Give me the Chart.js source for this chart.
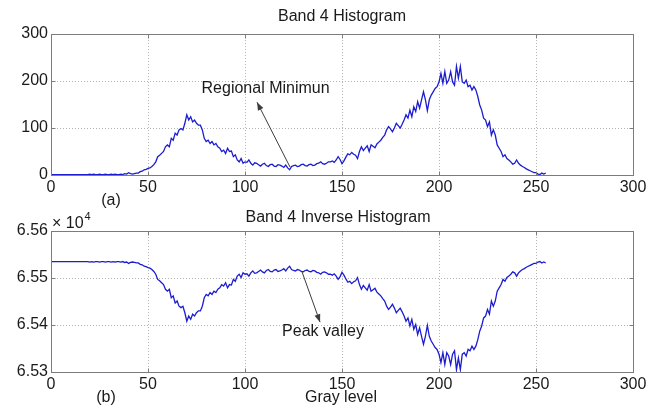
<!DOCTYPE html>
<html><head><meta charset="utf-8">
<script src="https://cdn.jsdelivr.net/npm/chart.js@4.4.1/dist/chart.umd.min.js"></script>
<style>
html,body{margin:0;padding:0;background:#fff;}
#wrap{position:relative;width:669px;height:407px;background:#fff;}
canvas{position:absolute;left:0;}
</style></head><body>
<div id="wrap">
<canvas id="c1" width="669" height="212" style="top:0"></canvas>
<canvas id="c2" width="669" height="207" style="top:200px"></canvas>
</div>
<script>
// ---- data ----
const grayLevels = [0,1,2,3,4,5,6,7,8,9,10,11,12,13,14,15,16,17,18,19,20,21,22,23,24,25,26,27,28,29,30,31,32,33,34,35,36,37,38,39,40,41,42,43,44,45,46,47,48,49,50,51,52,53,54,55,56,57,58,59,60,61,62,63,64,65,66,67,68,69,70,71,72,73,74,75,76,77,78,79,80,81,82,83,84,85,86,87,88,89,90,91,92,93,94,95,96,97,98,99,100,101,102,103,104,105,106,107,108,109,110,111,112,113,114,115,116,117,118,119,120,121,122,123,124,125,126,127,128,129,130,131,132,133,134,135,136,137,138,139,140,141,142,143,144,145,146,147,148,149,150,151,152,153,154,155,156,157,158,159,160,161,162,163,164,165,166,167,168,169,170,171,172,173,174,175,176,177,178,179,180,181,182,183,184,185,186,187,188,189,190,191,192,193,194,195,196,197,198,199,200,201,202,203,204,205,206,207,208,209,210,211,212,213,214,215,216,217,218,219,220,221,222,223,224,225,226,227,228,229,230,231,232,233,234,235,236,237,238,239,240,241,242,243,244,245,246,247,248,249,250,251,252,253,254,255];

const histogramCounts = [
1,1,1,1,1,1,1,1,1,1, 1,1,1,1,1,1,1,1,1,1,
2,1,2,1,1,2,1,1,2,1, 1,2,1,2,1,1,2,1,3,2,
5,3,2,3,4,4,7,8,11,12, 14,15,18,22,28,39,42,46,50,60,
64,60,78,74,89,85,96,99,96,110, 128,117,124,113,117,110,106,106,96,78,
71,74,67,71,64,67,60,57,50,53, 46,57,50,51,39,43,32,28,35,25,
28,27,32,25,21,26,25,22,19,23, 25,20,18,22,23,19,18,22,21,19,
16,21,15,11,18,20,21,18,19,22, 23,20,19,22,23,20,21,24,25,28,
24,23,25,28,28,30,27,32,39,33, 24,30,38,45,43,48,44,42,35,50,
60,52,57,62,50,64,61,58,66,70, 74,80,85,96,103,98,92,100,110,105,
100,108,117,128,121,138,124,145,135,156, 142,160,177,160,137,160,170,177,184,188,
198,216,195,220,195,202,220,198,191,231, 206,231,198,195,202,188,191,181,188,181,
167,149,138,121,117,103,113,85,96,85, 64,57,50,39,43,35,32,28,23,25,
32,25,21,18,16,13,11,9,7,5, 5,2,1,4,2,4];

const inverseCounts = [
65535,65535,65535,65535,65535,65535,65535,65535,65535,65535,
65535,65535,65535,65535,65535,65535,65535,65535,65535,65535,
65534,65535,65534,65535,65535,65534,65535,65535,65534,65535,
65535,65534,65535,65534,65535,65535,65534,65535,65533,65534,
65531,65533,65534,65533,65532,65532,65529,65528,65525,65524,
65522,65521,65518,65514,65508,65497,65494,65490,65486,65476,
65472,65476,65458,65462,65447,65451,65440,65437,65440,65426,
65408,65419,65412,65423,65419,65426,65430,65430,65440,65458,
65465,65462,65469,65465,65472,65469,65476,65479,65486,65483,
65490,65479,65486,65485,65497,65493,65504,65508,65501,65511,
65508,65509,65504,65511,65515,65510,65511,65514,65517,65513,
65511,65516,65518,65514,65513,65517,65518,65514,65515,65517,
65520,65515,65521,65525,65518,65516,65515,65518,65517,65514,
65513,65516,65517,65514,65513,65516,65515,65512,65511,65508,
65512,65513,65511,65508,65508,65506,65509,65504,65497,65503,
65512,65506,65498,65491,65493,65488,65492,65494,65501,65486,
65476,65484,65479,65474,65486,65472,65475,65478,65470,65466,
65462,65456,65451,65440,65433,65438,65444,65436,65426,65431,
65436,65428,65419,65408,65415,65398,65412,65391,65401,65380,
65394,65376,65359,65376,65399,65376,65366,65359,65352,65348,
65338,65320,65341,65316,65341,65334,65316,65338,65345,65305,
65330,65305,65338,65341,65334,65348,65345,65355,65348,65355,
65369,65387,65398,65415,65419,65433,65423,65451,65440,65451,
65472,65479,65486,65497,65493,65501,65504,65508,65513,65511,
65504,65511,65515,65518,65520,65523,65525,65527,65529,65531,
65531,65534,65535,65532,65534,65532];

const xTickValues = [0,50,100,150,200,250,300];
const histTickValues = [0,100,200,300];
const inverseTickValues = [65300,65400,65500,65600];
const inverseTickLabels = ['6.53','6.54','6.55','6.56'];

// ---- styling ----
const FONT = "'Liberation Sans', Arial, Helvetica, sans-serif";
const TICKFONT = {family: FONT, size: 16};
const LINE = '#1c1cd0';
const GRID = '#b4b4b4';
const FRAME = '#7c7c7c';
const TXT = '#1a1a1a';

const figPlugin = {
  id: 'figPlugin',
  afterDraw(chart, args, opts) {
    const ctx = chart.ctx, ca = chart.chartArea;
    const xs = chart.scales.x, ys = chart.scales.y;
    ctx.save();
    // frame
    ctx.strokeStyle = FRAME; ctx.lineWidth = 1;
    const L0 = Math.round(ca.left) + 0.5, T0 = Math.round(ca.top) + 0.5;
    const R0 = Math.round(ca.right) + 0.5, B0 = Math.round(ca.bottom) + 0.5;
    ctx.strokeRect(L0, T0, R0 - L0, B0 - T0);
    // inward tick marks on all four sides
    const TL = 4;
    ctx.beginPath();
    xs.ticks.forEach(t => {
      const px = Math.round(xs.getPixelForValue(t.value)) + 0.5;
      ctx.moveTo(px, B0); ctx.lineTo(px, B0 - TL);
      ctx.moveTo(px, T0); ctx.lineTo(px, T0 + TL);
    });
    ys.ticks.forEach(t => {
      const py = Math.round(ys.getPixelForValue(t.value)) + 0.5;
      ctx.moveTo(L0, py); ctx.lineTo(L0 + TL, py);
      ctx.moveTo(R0, py); ctx.lineTo(R0 - TL, py);
    });
    ctx.stroke();
    // arrows (data coordinates)
    (opts.arrows || []).forEach(a => {
      const x1 = xs.getPixelForValue(a.from[0]), y1 = ys.getPixelForValue(a.from[1]);
      const x2 = xs.getPixelForValue(a.to[0]), y2 = ys.getPixelForValue(a.to[1]);
      ctx.strokeStyle = '#3c3c3c'; ctx.fillStyle = '#3c3c3c'; ctx.lineWidth = 1;
      ctx.beginPath(); ctx.moveTo(x1, y1); ctx.lineTo(x2, y2); ctx.stroke();
      const ang = Math.atan2(y2 - y1, x2 - x1), L = 8, W = 3;
      ctx.beginPath(); ctx.moveTo(x2, y2);
      ctx.lineTo(x2 - L * Math.cos(ang) + W * Math.sin(ang), y2 - L * Math.sin(ang) - W * Math.cos(ang));
      ctx.lineTo(x2 - L * Math.cos(ang) - W * Math.sin(ang), y2 - L * Math.sin(ang) + W * Math.cos(ang));
      ctx.closePath(); ctx.fill();
    });
    // texts
    ctx.fillStyle = TXT; ctx.textBaseline = 'middle';
    (opts.texts || []).forEach(t => {
      let x, y;
      if (t.data) { x = xs.getPixelForValue(t.data[0]); y = ys.getPixelForValue(t.data[1]); }
      else { x = ca.left + t.dx; y = (t.ref === 'bottom' ? ca.bottom : ca.top) + t.dy; }
      ctx.font = (t.size || 16) + 'px ' + FONT;
      ctx.textAlign = t.align || 'center';
      ctx.fillText(t.text, x, y);
      if (t.sup) {
        const w = ctx.measureText(t.text).width;
        ctx.font = '11px ' + FONT; ctx.textAlign = 'left';
        ctx.fillText(t.sup, x + w + 1, y - 7);
      }
    });
    ctx.restore();
  }
};

function baseOptions(yMin, yMax, yTicks, yFmt, xAxisH, padTop, plugOpts) {
  return {
    responsive: false, animation: false, events: [],
    layout: {padding: {left: 0, right: 36, top: padTop, bottom: 0}},
    plugins: {legend: {display: false}, tooltip: {enabled: false}, title: {display: false}, figPlugin: plugOpts},
    scales: {
      x: {
        type: 'linear', min: 0, max: 300,
        afterBuildTicks: s => { s.ticks = xTickValues.map(v => ({value: v})); },
        afterFit: s => { s.height = xAxisH; },
        ticks: {font: TICKFONT, color: TXT, padding: 3, maxRotation: 0, autoSkip: false},
        grid: {color: GRID, drawTicks: false, lineWidth: 1},
        border: {display: false, dash: [1, 2]}
      },
      y: {
        type: 'linear', min: yMin, max: yMax,
        afterBuildTicks: s => { s.ticks = yTicks.map(v => ({value: v})); },
        afterFit: s => { s.width = 51; },
        ticks: {font: TICKFONT, color: TXT, padding: 3, callback: yFmt},
        grid: {color: GRID, drawTicks: false, lineWidth: 1},
        border: {display: false, dash: [1, 2]}
      }
    }
  };
}

new Chart(document.getElementById('c1'), {
  type: 'line',
  data: {datasets: [{
    data: grayLevels.map((g, i) => ({x: g, y: histogramCounts[i]})),
    borderColor: LINE, borderWidth: 1.3, pointRadius: 0, tension: 0, fill: false
  }]},
  options: baseOptions(0, 300, histTickValues, v => String(v), 212 - 175, 34, {
    arrows: [{from: [123.2, 17], to: [106.2, 155]}],
    texts: [
      {text: 'Band 4 Histogram', dx: 291, dy: -17, ref: 'top', size: 16},
      {text: 'Regional Minimun', data: [110.6, 183]},
      {text: '(a)', dx: 60, dy: 26, ref: 'bottom'}
    ]
  }),
  plugins: [figPlugin]
});

new Chart(document.getElementById('c2'), {
  type: 'line',
  data: {datasets: [{
    data: grayLevels.map((g, i) => ({x: g, y: inverseCounts[i]})),
    borderColor: LINE, borderWidth: 1.3, pointRadius: 0, tension: 0, fill: false
  }]},
  options: baseOptions(65300, 65600, inverseTickValues,
    v => inverseTickLabels[inverseTickValues.indexOf(v)], 207 - 172, 31, {
    arrows: [{from: [129.4, 65513], to: [138.7, 65406]}],
    texts: [
      {text: 'Band 4 Inverse Histogram', dx: 287, dy: -13, ref: 'top', size: 16},
      {text: '\u00d7 10', sup: '4', dx: 1, dy: -7, ref: 'top', align: 'left', size: 16},
      {text: 'Peak valley', data: [140.2, 65385]},
      {text: '(b)', dx: 55, dy: 26, ref: 'bottom'},
      {text: 'Gray level', dx: 290, dy: 26, ref: 'bottom'}
    ]
  }),
  plugins: [figPlugin]
});
</script>
</body></html>
